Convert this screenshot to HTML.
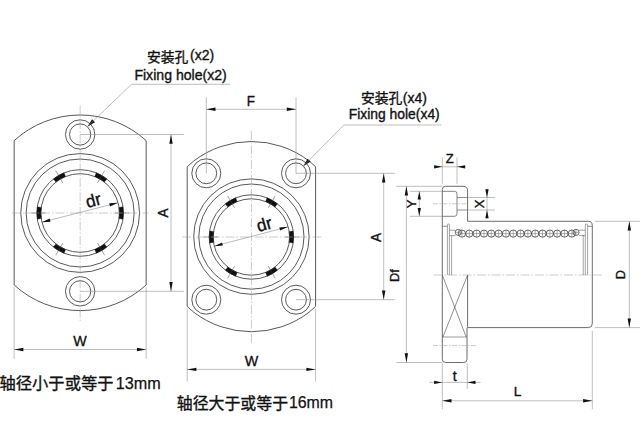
<!DOCTYPE html>
<html><head><meta charset="utf-8"><title>Flange linear bearing dimensions</title>
<style>
html,body{margin:0;padding:0;background:#fff;}
body{width:640px;height:440px;overflow:hidden;font-family:"Liberation Sans", sans-serif;}
svg{display:block;}
svg text{font-family:"Liberation Sans", "Noto Sans CJK SC", sans-serif;}
</style></head><body>
<svg width="640" height="440" viewBox="0 0 640 440">
<rect width="640" height="440" fill="#fff"/>
<path d="M14.15,140.63 A97.8,97.8 0 0 1 146.15,140.63 L146.15,284.97 A97.8,97.8 0 0 1 14.15,284.97 Z" stroke="#505050" stroke-width="0.95" fill="none" />
<circle cx="80.15" cy="213.00" r="59.40" stroke="#505050" stroke-width="0.95" fill="none"/>
<circle cx="80.15" cy="213.00" r="54.00" stroke="#505050" stroke-width="0.95" fill="none"/>
<circle cx="80.15" cy="213.00" r="43.30" stroke="#505050" stroke-width="0.95" fill="none"/>
<circle cx="80.15" cy="213.00" r="39.30" stroke="#505050" stroke-width="0.95" fill="none"/>
<path d="M123.01,206.82 A43.3,43.3 0 0 1 123.01,219.18 L119.05,218.61 A39.3,39.3 0 0 0 119.05,207.39 Z" stroke="#111" stroke-width="0.3" fill="#111" />
<line x1="114.95" y1="213.00" x2="128.95" y2="213.00" stroke="#444" stroke-width="0.5" />
<path d="M106.93,247.03 A43.3,43.3 0 0 1 96.23,253.20 L94.74,249.49 A39.3,39.3 0 0 0 104.45,243.88 Z" stroke="#111" stroke-width="0.3" fill="#111" />
<line x1="97.55" y1="243.14" x2="104.55" y2="255.26" stroke="#444" stroke-width="0.5" />
<path d="M64.07,253.20 A43.3,43.3 0 0 1 53.37,247.03 L55.85,243.88 A39.3,39.3 0 0 0 65.56,249.49 Z" stroke="#111" stroke-width="0.3" fill="#111" />
<line x1="62.75" y1="243.14" x2="55.75" y2="255.26" stroke="#444" stroke-width="0.5" />
<path d="M37.29,219.18 A43.3,43.3 0 0 1 37.29,206.82 L41.25,207.39 A39.3,39.3 0 0 0 41.25,218.61 Z" stroke="#111" stroke-width="0.3" fill="#111" />
<line x1="45.35" y1="213.00" x2="31.35" y2="213.00" stroke="#444" stroke-width="0.5" />
<path d="M53.37,178.97 A43.3,43.3 0 0 1 64.07,172.80 L65.56,176.51 A39.3,39.3 0 0 0 55.85,182.12 Z" stroke="#111" stroke-width="0.3" fill="#111" />
<line x1="62.75" y1="182.86" x2="55.75" y2="170.74" stroke="#444" stroke-width="0.5" />
<path d="M96.23,172.80 A43.3,43.3 0 0 1 106.93,178.97 L104.45,182.12 A39.3,39.3 0 0 0 94.74,176.51 Z" stroke="#111" stroke-width="0.3" fill="#111" />
<line x1="97.55" y1="182.86" x2="104.55" y2="170.74" stroke="#444" stroke-width="0.5" />
<line x1="41.77" y1="222.21" x2="117.93" y2="202.79" stroke="#777" stroke-width="0.5" />
<polygon points="41.77,222.21 49.71,218.53 50.50,221.63" fill="#111"/>
<polygon points="117.93,202.79 109.99,206.47 109.20,203.37" fill="#111"/>
<circle cx="80.15" cy="134.50" r="14.70" stroke="#505050" stroke-width="0.95" fill="none"/>
<circle cx="80.15" cy="134.50" r="10.60" stroke="#505050" stroke-width="0.95" fill="none"/>
<circle cx="80.15" cy="291.30" r="14.70" stroke="#505050" stroke-width="0.95" fill="none"/>
<circle cx="80.15" cy="291.30" r="10.60" stroke="#505050" stroke-width="0.95" fill="none"/>
<line x1="80.15" y1="105.50" x2="80.15" y2="321.00" stroke="#999" stroke-width="0.5" stroke-dasharray="9 2 1.5 2"/>
<line x1="12.00" y1="213.00" x2="148.50" y2="213.00" stroke="#999" stroke-width="0.5" stroke-dasharray="9 2 1.5 2"/>
<line x1="80.15" y1="134.50" x2="184.00" y2="134.50" stroke="#888" stroke-width="0.55" />
<line x1="80.15" y1="291.30" x2="184.00" y2="291.30" stroke="#888" stroke-width="0.55" />
<line x1="171.00" y1="134.50" x2="171.00" y2="291.30" stroke="#888" stroke-width="0.55" />
<polygon points="171.00,134.50 172.70,143.70 169.30,143.70" fill="#111"/>
<polygon points="171.00,291.30 169.30,282.10 172.70,282.10" fill="#111"/>
<text transform="translate(167.70 213.00) rotate(-90) scale(0.92 1)" font-size="14.8" text-anchor="middle" font-weight="normal" fill="#111" stroke="#111" stroke-width="0.35">A</text>
<line x1="14.15" y1="287.17" x2="14.15" y2="358.60" stroke="#888" stroke-width="0.55" />
<line x1="146.15" y1="287.17" x2="146.15" y2="358.60" stroke="#888" stroke-width="0.55" />
<line x1="14.15" y1="349.50" x2="146.15" y2="349.50" stroke="#888" stroke-width="0.55" />
<polygon points="14.15,349.50 23.35,347.80 23.35,351.20" fill="#111"/>
<polygon points="146.15,349.50 136.95,351.20 136.95,347.80" fill="#111"/>
<text transform="translate(80.10 346.00) scale(0.94 1)" font-size="15.2" text-anchor="middle" font-weight="normal" fill="#111" stroke="#111" stroke-width="0.35">W</text>
<polygon points="87.40,126.70 92.07,119.30 94.98,122.32" fill="#111"/>
<path d="M87.4,126.7 L131.5,84.3 L230,84.3" stroke="#888" stroke-width="0.55" fill="none" />
<text transform="translate(180.60 79.50)" font-size="14.1" text-anchor="middle" font-weight="normal" fill="#111" stroke="#111" stroke-width="0.35">Fixing hole(x2)</text>
<text transform="translate(87.60 207.90) rotate(-15)" font-size="17.2" text-anchor="start" font-weight="normal" fill="#111" stroke="#111" stroke-width="0.35">dr</text>
<path d="M187.20,166.74 L193.70,161.00 A95.1,95.1 0 0 1 309.10,161.00 L315.60,166.74 L315.60,306.46 L309.10,312.20 A95.1,95.1 0 0 1 193.70,312.20 L187.20,306.46 Z" stroke="#505050" stroke-width="0.95" fill="none" />
<circle cx="251.40" cy="236.60" r="57.70" stroke="#505050" stroke-width="0.95" fill="none"/>
<circle cx="251.40" cy="236.60" r="52.60" stroke="#505050" stroke-width="0.95" fill="none"/>
<circle cx="251.40" cy="237.00" r="42.20" stroke="#505050" stroke-width="0.95" fill="none"/>
<circle cx="251.40" cy="237.00" r="38.20" stroke="#505050" stroke-width="0.95" fill="none"/>
<path d="M293.17,230.98 A42.2,42.2 0 0 1 293.17,243.02 L289.21,242.45 A38.2,38.2 0 0 0 289.21,231.55 Z" stroke="#111" stroke-width="0.3" fill="#111" />
<line x1="285.10" y1="237.00" x2="299.10" y2="237.00" stroke="#444" stroke-width="0.5" />
<path d="M277.50,270.16 A42.2,42.2 0 0 1 267.07,276.18 L265.59,272.47 A38.2,38.2 0 0 0 275.02,267.02 Z" stroke="#111" stroke-width="0.3" fill="#111" />
<line x1="268.25" y1="266.19" x2="275.25" y2="278.31" stroke="#444" stroke-width="0.5" />
<path d="M235.73,276.18 A42.2,42.2 0 0 1 225.30,270.16 L227.78,267.02 A38.2,38.2 0 0 0 237.21,272.47 Z" stroke="#111" stroke-width="0.3" fill="#111" />
<line x1="234.55" y1="266.19" x2="227.55" y2="278.31" stroke="#444" stroke-width="0.5" />
<path d="M209.63,243.02 A42.2,42.2 0 0 1 209.63,230.98 L213.59,231.55 A38.2,38.2 0 0 0 213.59,242.45 Z" stroke="#111" stroke-width="0.3" fill="#111" />
<line x1="217.70" y1="237.00" x2="203.70" y2="237.00" stroke="#444" stroke-width="0.5" />
<path d="M225.30,203.84 A42.2,42.2 0 0 1 235.73,197.82 L237.21,201.53 A38.2,38.2 0 0 0 227.78,206.98 Z" stroke="#111" stroke-width="0.3" fill="#111" />
<line x1="234.55" y1="207.81" x2="227.55" y2="195.69" stroke="#444" stroke-width="0.5" />
<path d="M267.07,197.82 A42.2,42.2 0 0 1 277.50,203.84 L275.02,206.98 A38.2,38.2 0 0 0 265.59,201.53 Z" stroke="#111" stroke-width="0.3" fill="#111" />
<line x1="268.25" y1="207.81" x2="275.25" y2="195.69" stroke="#444" stroke-width="0.5" />
<line x1="214.13" y1="246.13" x2="288.07" y2="226.87" stroke="#777" stroke-width="0.5" />
<polygon points="214.13,246.13 222.05,242.41 222.86,245.51" fill="#111"/>
<polygon points="288.07,226.87 280.15,230.59 279.34,227.49" fill="#111"/>
<circle cx="206.30" cy="173.30" r="14.50" stroke="#505050" stroke-width="0.95" fill="none"/>
<circle cx="206.30" cy="173.30" r="10.40" stroke="#505050" stroke-width="0.95" fill="none"/>
<circle cx="206.30" cy="299.70" r="14.50" stroke="#505050" stroke-width="0.95" fill="none"/>
<circle cx="206.30" cy="299.70" r="10.40" stroke="#505050" stroke-width="0.95" fill="none"/>
<circle cx="296.00" cy="173.30" r="14.50" stroke="#505050" stroke-width="0.95" fill="none"/>
<circle cx="296.00" cy="173.30" r="10.40" stroke="#505050" stroke-width="0.95" fill="none"/>
<circle cx="296.00" cy="299.70" r="14.50" stroke="#505050" stroke-width="0.95" fill="none"/>
<circle cx="296.00" cy="299.70" r="10.40" stroke="#505050" stroke-width="0.95" fill="none"/>
<line x1="251.40" y1="131.00" x2="251.40" y2="343.00" stroke="#999" stroke-width="0.5" stroke-dasharray="9 2 1.5 2"/>
<line x1="182.00" y1="237.00" x2="322.00" y2="237.00" stroke="#999" stroke-width="0.5" stroke-dasharray="9 2 1.5 2"/>
<line x1="206.30" y1="97.50" x2="206.30" y2="173.30" stroke="#888" stroke-width="0.55" />
<line x1="296.00" y1="97.50" x2="296.00" y2="173.30" stroke="#888" stroke-width="0.55" />
<line x1="206.30" y1="109.30" x2="296.00" y2="109.30" stroke="#888" stroke-width="0.55" />
<polygon points="206.30,109.30 215.50,107.60 215.50,111.00" fill="#111"/>
<polygon points="296.00,109.30 286.80,111.00 286.80,107.60" fill="#111"/>
<text transform="translate(250.80 105.70) scale(0.92 1)" font-size="14.6" text-anchor="middle" font-weight="normal" fill="#111" stroke="#111" stroke-width="0.35">F</text>
<line x1="296.00" y1="173.30" x2="394.80" y2="173.30" stroke="#888" stroke-width="0.55" />
<line x1="296.00" y1="299.70" x2="394.80" y2="299.70" stroke="#888" stroke-width="0.55" />
<line x1="383.70" y1="173.30" x2="383.70" y2="299.70" stroke="#888" stroke-width="0.55" />
<polygon points="383.70,173.30 385.40,182.50 382.00,182.50" fill="#111"/>
<polygon points="383.70,299.70 382.00,290.50 385.40,290.50" fill="#111"/>
<text transform="translate(380.60 237.40) rotate(-90) scale(0.92 1)" font-size="14.8" text-anchor="middle" font-weight="normal" fill="#111" stroke="#111" stroke-width="0.35">A</text>
<line x1="187.20" y1="308.76" x2="187.20" y2="381.50" stroke="#888" stroke-width="0.55" />
<line x1="315.60" y1="308.76" x2="315.60" y2="381.50" stroke="#888" stroke-width="0.55" />
<line x1="187.20" y1="369.40" x2="315.60" y2="369.40" stroke="#888" stroke-width="0.55" />
<polygon points="187.20,369.40 196.40,367.70 196.40,371.10" fill="#111"/>
<polygon points="315.60,369.40 306.40,371.10 306.40,367.70" fill="#111"/>
<text transform="translate(251.40 366.40) scale(0.94 1)" font-size="15.2" text-anchor="middle" font-weight="normal" fill="#111" stroke="#111" stroke-width="0.35">W</text>
<polygon points="303.20,166.20 307.67,158.67 310.66,161.62" fill="#111"/>
<path d="M303.2,166.2 L343.8,125.0 L441.3,125.0" stroke="#888" stroke-width="0.55" fill="none" />
<text transform="translate(394.20 119.40)" font-size="13.9" text-anchor="middle" font-weight="normal" fill="#111" stroke="#111" stroke-width="0.35">Fixing hole(x4)</text>
<text transform="translate(258.60 232.10) rotate(-16)" font-size="17.2" text-anchor="start" font-weight="normal" fill="#111" stroke="#111" stroke-width="0.35">dr</text>
<path d="M442.3,275.0 L442.3,189.5 Q442.3,186.3 445.5,186.3 L463.0,186.3 Q467.6,186.3 467.6,190.9 L467.6,221.3 L588.3,221.3 Q592.3,221.3 592.3,225.8 L592.3,323.6 Q592.3,327.6 588.3,327.6 L467.6,327.6" stroke="#646464" stroke-width="0.95" fill="none" />
<path d="M442.3,275.0 L442.3,359.3 Q442.3,362.5 445.5,362.5 L463.8,362.5 Q467.0,362.5 467.0,359.3 L467.0,327.6" stroke="#646464" stroke-width="0.95" fill="none" />
<path d="M467.6,275.0 L467.6,327.6" stroke="#646464" stroke-width="0.95" fill="none" />
<line x1="442.30" y1="275.00" x2="466.20" y2="337.00" stroke="#444" stroke-width="0.6" />
<line x1="467.60" y1="275.00" x2="442.90" y2="337.00" stroke="#444" stroke-width="0.6" />
<line x1="442.30" y1="337.00" x2="467.00" y2="337.00" stroke="#646464" stroke-width="0.65" />
<path d="M442.3,191.3 L454.5,191.3 Q457.0,191.3 457.0,193.8 L457.0,213.8 Q457.0,216.3 454.5,216.3 L442.3,216.3" stroke="#646464" stroke-width="0.8" fill="none" />
<line x1="457.00" y1="197.50" x2="467.60" y2="197.50" stroke="#646464" stroke-width="0.7" />
<line x1="457.00" y1="210.00" x2="467.60" y2="210.00" stroke="#646464" stroke-width="0.7" />
<line x1="433.00" y1="203.80" x2="467.60" y2="203.80" stroke="#999" stroke-width="0.5" stroke-dasharray="5 1.5 1.5 1.5"/>
<line x1="433.00" y1="345.60" x2="477.00" y2="345.60" stroke="#999" stroke-width="0.5" stroke-dasharray="5 1.5 1.5 1.5"/>
<line x1="433.50" y1="275.00" x2="603.80" y2="275.00" stroke="#999" stroke-width="0.5" stroke-dasharray="9 2 1.5 2"/>
<line x1="442.30" y1="226.30" x2="447.40" y2="226.30" stroke="#646464" stroke-width="0.7" />
<path d="M447.4,275.0 L447.4,225 Q447.4,224 448.4,224 Q449.4,224 449.4,225 L449.4,275.0" stroke="#646464" stroke-width="0.6" fill="none" />
<line x1="451.60" y1="235.60" x2="451.60" y2="275.00" stroke="#646464" stroke-width="0.6" />
<line x1="587.60" y1="226.30" x2="592.30" y2="226.30" stroke="#646464" stroke-width="0.7" />
<path d="M585.3,275.0 L585.3,225 Q585.3,224 586.4,224 Q587.6,224 587.6,225 L587.6,275.0" stroke="#646464" stroke-width="0.6" fill="none" />
<line x1="583.20" y1="235.00" x2="583.20" y2="275.00" stroke="#646464" stroke-width="0.6" />
<line x1="449.40" y1="230.20" x2="455.50" y2="230.20" stroke="#646464" stroke-width="0.6" />
<line x1="449.40" y1="235.60" x2="455.50" y2="235.60" stroke="#646464" stroke-width="0.6" />
<line x1="579.00" y1="230.20" x2="585.30" y2="230.20" stroke="#646464" stroke-width="0.6" />
<line x1="579.00" y1="235.60" x2="585.30" y2="235.60" stroke="#646464" stroke-width="0.6" />
<circle cx="462.00" cy="233.60" r="3.60" stroke="#333" stroke-width="0.75" fill="none"/>
<line x1="462.00" y1="230.00" x2="462.00" y2="237.20" stroke="#666" stroke-width="0.5" />
<line x1="458.40" y1="233.60" x2="465.60" y2="233.60" stroke="#666" stroke-width="0.5" />
<circle cx="469.32" cy="233.60" r="3.60" stroke="#333" stroke-width="0.75" fill="none"/>
<line x1="469.32" y1="230.00" x2="469.32" y2="237.20" stroke="#666" stroke-width="0.5" />
<line x1="465.72" y1="233.60" x2="472.92" y2="233.60" stroke="#666" stroke-width="0.5" />
<circle cx="476.64" cy="233.60" r="3.60" stroke="#333" stroke-width="0.75" fill="none"/>
<line x1="476.64" y1="230.00" x2="476.64" y2="237.20" stroke="#666" stroke-width="0.5" />
<line x1="473.04" y1="233.60" x2="480.24" y2="233.60" stroke="#666" stroke-width="0.5" />
<circle cx="483.96" cy="233.60" r="3.60" stroke="#333" stroke-width="0.75" fill="none"/>
<line x1="483.96" y1="230.00" x2="483.96" y2="237.20" stroke="#666" stroke-width="0.5" />
<line x1="480.36" y1="233.60" x2="487.56" y2="233.60" stroke="#666" stroke-width="0.5" />
<circle cx="491.28" cy="233.60" r="3.60" stroke="#333" stroke-width="0.75" fill="none"/>
<line x1="491.28" y1="230.00" x2="491.28" y2="237.20" stroke="#666" stroke-width="0.5" />
<line x1="487.68" y1="233.60" x2="494.88" y2="233.60" stroke="#666" stroke-width="0.5" />
<circle cx="498.60" cy="233.60" r="3.60" stroke="#333" stroke-width="0.75" fill="none"/>
<line x1="498.60" y1="230.00" x2="498.60" y2="237.20" stroke="#666" stroke-width="0.5" />
<line x1="495.00" y1="233.60" x2="502.20" y2="233.60" stroke="#666" stroke-width="0.5" />
<circle cx="505.92" cy="233.60" r="3.60" stroke="#333" stroke-width="0.75" fill="none"/>
<line x1="505.92" y1="230.00" x2="505.92" y2="237.20" stroke="#666" stroke-width="0.5" />
<line x1="502.32" y1="233.60" x2="509.52" y2="233.60" stroke="#666" stroke-width="0.5" />
<circle cx="513.24" cy="233.60" r="3.60" stroke="#333" stroke-width="0.75" fill="none"/>
<line x1="513.24" y1="230.00" x2="513.24" y2="237.20" stroke="#666" stroke-width="0.5" />
<line x1="509.64" y1="233.60" x2="516.84" y2="233.60" stroke="#666" stroke-width="0.5" />
<circle cx="520.56" cy="233.60" r="3.60" stroke="#333" stroke-width="0.75" fill="none"/>
<line x1="520.56" y1="230.00" x2="520.56" y2="237.20" stroke="#666" stroke-width="0.5" />
<line x1="516.96" y1="233.60" x2="524.16" y2="233.60" stroke="#666" stroke-width="0.5" />
<circle cx="527.88" cy="233.60" r="3.60" stroke="#333" stroke-width="0.75" fill="none"/>
<line x1="527.88" y1="230.00" x2="527.88" y2="237.20" stroke="#666" stroke-width="0.5" />
<line x1="524.28" y1="233.60" x2="531.48" y2="233.60" stroke="#666" stroke-width="0.5" />
<circle cx="535.20" cy="233.60" r="3.60" stroke="#333" stroke-width="0.75" fill="none"/>
<line x1="535.20" y1="230.00" x2="535.20" y2="237.20" stroke="#666" stroke-width="0.5" />
<line x1="531.60" y1="233.60" x2="538.80" y2="233.60" stroke="#666" stroke-width="0.5" />
<circle cx="542.52" cy="233.60" r="3.60" stroke="#333" stroke-width="0.75" fill="none"/>
<line x1="542.52" y1="230.00" x2="542.52" y2="237.20" stroke="#666" stroke-width="0.5" />
<line x1="538.92" y1="233.60" x2="546.12" y2="233.60" stroke="#666" stroke-width="0.5" />
<circle cx="549.84" cy="233.60" r="3.60" stroke="#333" stroke-width="0.75" fill="none"/>
<line x1="549.84" y1="230.00" x2="549.84" y2="237.20" stroke="#666" stroke-width="0.5" />
<line x1="546.24" y1="233.60" x2="553.44" y2="233.60" stroke="#666" stroke-width="0.5" />
<circle cx="557.16" cy="233.60" r="3.60" stroke="#333" stroke-width="0.75" fill="none"/>
<line x1="557.16" y1="230.00" x2="557.16" y2="237.20" stroke="#666" stroke-width="0.5" />
<line x1="553.56" y1="233.60" x2="560.76" y2="233.60" stroke="#666" stroke-width="0.5" />
<circle cx="564.48" cy="233.60" r="3.60" stroke="#333" stroke-width="0.75" fill="none"/>
<line x1="564.48" y1="230.00" x2="564.48" y2="237.20" stroke="#666" stroke-width="0.5" />
<line x1="560.88" y1="233.60" x2="568.08" y2="233.60" stroke="#666" stroke-width="0.5" />
<circle cx="571.80" cy="233.60" r="3.60" stroke="#333" stroke-width="0.75" fill="none"/>
<line x1="571.80" y1="230.00" x2="571.80" y2="237.20" stroke="#666" stroke-width="0.5" />
<line x1="568.20" y1="233.60" x2="575.40" y2="233.60" stroke="#666" stroke-width="0.5" />
<circle cx="458.30" cy="232.40" r="3.10" stroke="#333" stroke-width="0.7" fill="none"/>
<line x1="458.30" y1="229.30" x2="458.30" y2="235.50" stroke="#666" stroke-width="0.5" />
<line x1="455.20" y1="232.40" x2="461.40" y2="232.40" stroke="#666" stroke-width="0.5" />
<circle cx="576.00" cy="232.40" r="3.10" stroke="#333" stroke-width="0.7" fill="none"/>
<line x1="576.00" y1="229.30" x2="576.00" y2="235.50" stroke="#666" stroke-width="0.5" />
<line x1="572.90" y1="232.40" x2="579.10" y2="232.40" stroke="#666" stroke-width="0.5" />
<line x1="442.30" y1="157.50" x2="442.30" y2="183.80" stroke="#888" stroke-width="0.55" />
<line x1="457.00" y1="157.50" x2="457.00" y2="183.80" stroke="#888" stroke-width="0.55" />
<line x1="433.80" y1="166.80" x2="465.00" y2="166.80" stroke="#888" stroke-width="0.55" />
<polygon points="442.30,166.80 434.10,168.45 434.10,165.15" fill="#111"/>
<polygon points="457.00,166.80 465.20,165.15 465.20,168.45" fill="#111"/>
<text transform="translate(449.70 163.30)" font-size="13" text-anchor="middle" font-weight="normal" fill="#111" stroke="#111" stroke-width="0.35">Z</text>
<line x1="410.00" y1="191.30" x2="442.30" y2="191.30" stroke="#888" stroke-width="0.55" />
<line x1="410.00" y1="216.30" x2="442.30" y2="216.30" stroke="#888" stroke-width="0.55" />
<line x1="419.30" y1="191.30" x2="419.30" y2="216.30" stroke="#888" stroke-width="0.55" />
<polygon points="419.30,191.30 420.95,199.50 417.65,199.50" fill="#111"/>
<polygon points="419.30,216.30 417.65,208.10 420.95,208.10" fill="#111"/>
<text transform="translate(416.10 203.90) rotate(-90)" font-size="13" text-anchor="middle" font-weight="normal" fill="#111" stroke="#111" stroke-width="0.35">Y</text>
<line x1="467.60" y1="197.50" x2="495.00" y2="197.50" stroke="#888" stroke-width="0.55" />
<line x1="467.60" y1="210.00" x2="495.00" y2="210.00" stroke="#888" stroke-width="0.55" />
<line x1="487.00" y1="188.50" x2="487.00" y2="218.30" stroke="#888" stroke-width="0.55" />
<polygon points="487.00,197.50 485.35,189.30 488.65,189.30" fill="#111"/>
<polygon points="487.00,210.00 488.65,218.20 485.35,218.20" fill="#111"/>
<text transform="translate(483.90 203.80) rotate(-90)" font-size="13" text-anchor="middle" font-weight="normal" fill="#111" stroke="#111" stroke-width="0.35">X</text>
<line x1="396.30" y1="186.30" x2="442.30" y2="186.30" stroke="#888" stroke-width="0.55" />
<line x1="396.30" y1="362.50" x2="442.30" y2="362.50" stroke="#888" stroke-width="0.55" />
<line x1="406.40" y1="186.30" x2="406.40" y2="362.50" stroke="#888" stroke-width="0.55" />
<polygon points="406.40,186.30 408.10,195.50 404.70,195.50" fill="#111"/>
<polygon points="406.40,362.50 404.70,353.30 408.10,353.30" fill="#111"/>
<text transform="translate(399.20 275.50) rotate(-90)" font-size="12.8" text-anchor="middle" font-weight="normal" fill="#111" stroke="#111" stroke-width="0.35">Df</text>
<line x1="595.00" y1="221.30" x2="640.00" y2="221.30" stroke="#888" stroke-width="0.55" />
<line x1="595.00" y1="327.60" x2="640.00" y2="327.60" stroke="#888" stroke-width="0.55" />
<line x1="629.30" y1="221.30" x2="629.30" y2="327.60" stroke="#888" stroke-width="0.55" />
<polygon points="629.30,221.30 631.00,230.50 627.60,230.50" fill="#111"/>
<polygon points="629.30,327.60 627.60,318.40 631.00,318.40" fill="#111"/>
<text transform="translate(625.20 274.60) rotate(-90)" font-size="12.8" text-anchor="middle" font-weight="normal" fill="#111" stroke="#111" stroke-width="0.35">D</text>
<line x1="442.30" y1="363.50" x2="442.30" y2="409.30" stroke="#888" stroke-width="0.55" />
<line x1="467.30" y1="363.50" x2="467.30" y2="388.80" stroke="#888" stroke-width="0.55" />
<line x1="429.30" y1="382.40" x2="480.60" y2="382.40" stroke="#888" stroke-width="0.55" />
<polygon points="442.30,382.40 434.10,384.05 434.10,380.75" fill="#111"/>
<polygon points="467.30,382.40 475.50,380.75 475.50,384.05" fill="#111"/>
<text transform="translate(454.60 380.60)" font-size="14" text-anchor="middle" font-weight="normal" fill="#111" stroke="#111" stroke-width="0.35">t</text>
<line x1="592.30" y1="331.00" x2="592.30" y2="409.30" stroke="#888" stroke-width="0.55" />
<line x1="442.30" y1="400.80" x2="592.30" y2="400.80" stroke="#888" stroke-width="0.55" />
<polygon points="442.30,400.80 451.50,399.10 451.50,402.50" fill="#111"/>
<polygon points="592.30,400.80 583.10,402.50 583.10,399.10" fill="#111"/>
<text transform="translate(517.60 396.30)" font-size="13.6" text-anchor="middle" font-weight="normal" fill="#111" stroke="#111" stroke-width="0.35">L</text>
<text transform="translate(147.00 61.50)" font-size="13.8" text-anchor="start" font-weight="normal" fill="#111" stroke="#111" stroke-width="0.35">安装孔</text>
<text transform="translate(190.10 60.30)" font-size="14.0" text-anchor="start" font-weight="normal" fill="#111" stroke="#111" stroke-width="0.35">(x2)</text>
<text transform="translate(361.00 103.10)" font-size="13.8" text-anchor="start" font-weight="normal" fill="#111" stroke="#111" stroke-width="0.35">安装孔</text>
<text transform="translate(402.80 102.80)" font-size="14.0" text-anchor="start" font-weight="normal" fill="#111" stroke="#111" stroke-width="0.35">(x4)</text>
<text transform="translate(-0.50 389.00)" font-size="16.3" text-anchor="start" font-weight="normal" fill="#111" stroke="#111" stroke-width="0.35">轴径小于或等于</text>
<text transform="translate(115.70 388.70)" font-size="16.2" text-anchor="start" font-weight="normal" fill="#111" stroke="#111" stroke-width="0.25">13mm</text>
<text transform="translate(176.80 408.50)" font-size="15.9" text-anchor="start" font-weight="normal" fill="#111" stroke="#111" stroke-width="0.35">轴径大于或等于</text>
<text transform="translate(288.90 408.20)" font-size="15.9" text-anchor="start" font-weight="normal" fill="#111" stroke="#111" stroke-width="0.25">16mm</text>
</svg>
</body></html>
